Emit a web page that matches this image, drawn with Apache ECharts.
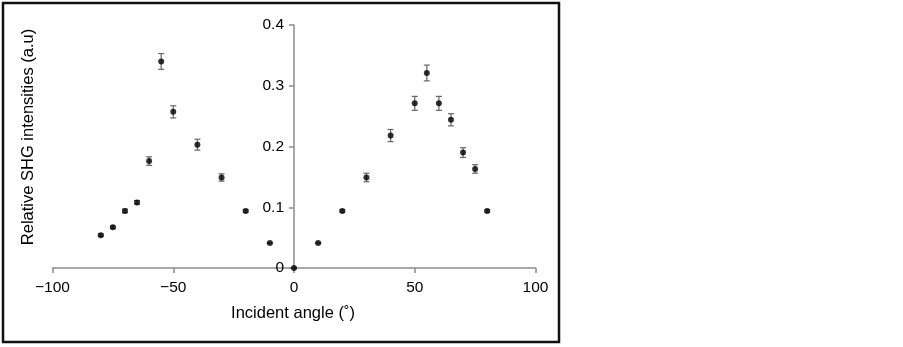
<!DOCTYPE html>
<html><head><meta charset="utf-8">
<script src="https://cdn.jsdelivr.net/npm/echarts@6/dist/echarts.min.js"></script>
<style>html,body{margin:0;padding:0;background:#fff}#c{width:903px;height:347px}</style>
</head><body><div id="c"></div>
<script>
const angles = [-80,-75,-70,-65,-60,-55,-50,-40,-30,-20,-10,0,10,20,30,40,50,55,60,65,70,75,80];
const intensities = [0.054,0.067,0.094,0.108,0.176,0.340,0.257,0.203,0.149,0.094,0.041,0,0.041,0.094,0.149,0.218,0.271,0.321,0.271,0.244,0.190,0.163,0.094];
const errors = [0.002,0.002,0.003,0.003,0.007,0.013,0.010,0.009,0.006,0.002,0,0,0,0.002,0.007,0.010,0.0115,0.013,0.0115,0.010,0.008,0.007,0.002];
const xTicks = {min:-100, max:100, interval:50};
const yTicks = {min:0, max:0.4, interval:0.1};
const xTitle = 'Incident angle (˚)';
const yTitle = 'Relative SHG intensities (a.u)';

const pts = angles.map((a,i)=>[a, intensities[i]]);
const errData = angles.map((a,i)=>[a, intensities[i]-errors[i], intensities[i]+errors[i]]);
const font = '"Liberation Sans", Arial, sans-serif';
const chart = echarts.init(document.getElementById('c'), null, {renderer:'canvas'});
const gridLeft = 52.5, gridRight = 367.5;
const plotW = 903 - gridLeft - gridRight;
// y axis sits at x = 0 of the x scale
const yAxisOffset = -plotW * (0 - xTicks.min) / (xTicks.max - xTicks.min);
chart.setOption({
  animation:false,
  grid:{left:gridLeft, right:gridRight, top:25, bottom:79},
  xAxis:{type:'value', min:xTicks.min, max:xTicks.max, interval:xTicks.interval,
    axisLine:{onZero:true, lineStyle:{color:'#8c8c8c', width:1.5}},
    axisTick:{show:true, inside:false, length:5, lineStyle:{color:'#8c8c8c', width:1.5}},
    axisLabel:{color:'#000', fontSize:15.5, fontFamily:font, margin:12,
      formatter:v=> v<0 ? '\u2212'+Math.abs(v) : String(v)},
    splitLine:{show:false}},
  yAxis:{type:'value', min:yTicks.min, max:yTicks.max, interval:yTicks.interval,
    position:'left', offset:yAxisOffset,
    axisLine:{show:true, onZero:false, lineStyle:{color:'#8c8c8c', width:1.5}},
    axisTick:{show:true, length:5, lineStyle:{color:'#8c8c8c', width:1.5}},
    axisLabel:{color:'#000', fontSize:15.5, fontFamily:font, margin:10,
      formatter:v=> v===0 ? '0' : v.toFixed(1)},
    splitLine:{show:false}},
  graphic:[
    {type:'rect', shape:{x:3, y:3, width:556, height:339}, style:{fill:null, stroke:'#111', lineWidth:2.5}, z:100},
    {type:'text', x:293, y:313, style:{text:xTitle, font:'16.5px '+font, fill:'#000', textAlign:'center', textVerticalAlign:'middle'}},
    {type:'text', x:28, y:137, rotation:Math.PI/2, style:{text:yTitle, font:'16.5px '+font, fill:'#000', textAlign:'center', textVerticalAlign:'middle'}}
  ],
  series:[
    {type:'custom', data:errData, z:2,
      renderItem:function(params, api){
        const x = api.value(0);
        const lo = api.coord([x, api.value(1)]);
        const hi = api.coord([x, api.value(2)]);
        const w = 3;
        const st = {stroke:'#666', lineWidth:1.2};
        return {type:'group', children:[
          {type:'line', shape:{x1:lo[0], y1:lo[1], x2:hi[0], y2:hi[1]}, style:st},
          {type:'line', shape:{x1:lo[0]-w, y1:lo[1], x2:lo[0]+w, y2:lo[1]}, style:st},
          {type:'line', shape:{x1:hi[0]-w, y1:hi[1], x2:hi[0]+w, y2:hi[1]}, style:st}
        ]};
      }},
    {type:'scatter', data:pts, symbol:'circle', symbolSize:6, z:3,
      itemStyle:{color:'#000'}}
  ]
});
</script></body></html>
